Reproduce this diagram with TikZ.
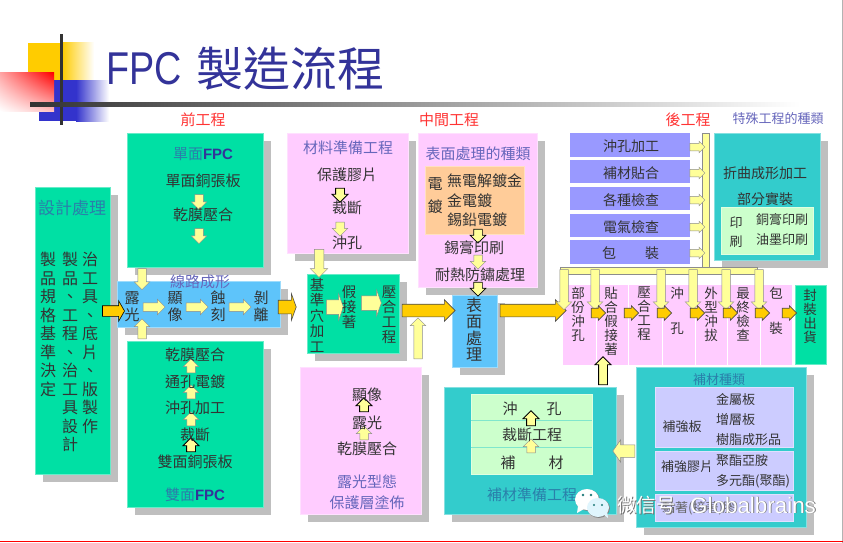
\documentclass[tikz,border=0pt]{standalone}
\usepackage{fontspec}
\setmainfont{Noto Sans CJK TC}
\newfontfamily\latinf{Liberation Sans}
\usepackage{tikz}
\usetikzlibrary{shapes.arrows}
\usetikzlibrary{shadows}
\usetikzlibrary{shadings}
\definecolor{grn}{HTML}{00E0A4}
\definecolor{pnk}{HTML}{FFCCFF}
\definecolor{sky}{HTML}{5EC4FA}
\definecolor{lav}{HTML}{9999FF}
\definecolor{lavlt}{HTML}{CCCCFF}
\definecolor{teal}{HTML}{33CCCC}
\definecolor{mint}{HTML}{CCFFCC}
\definecolor{ornglt}{HTML}{FFCC99}
\definecolor{shd}{HTML}{BFBFBF}
\definecolor{ylw}{HTML}{FFFF99}
\definecolor{orng}{HTML}{FFCC00}
\definecolor{navy}{HTML}{333399}
\definecolor{logoblue}{HTML}{3333CC}
\definecolor{violet}{HTML}{6666BB}
\definecolor{tealink}{HTML}{2A7FAA}
\definecolor{redink}{HTML}{FF3333}
\definecolor{ink}{HTML}{333333}
\tikzset{%
  box/.style={anchor=north west,inner sep=0pt,draw=#1!60!white,fill=#1,line width=0.6pt,
              drop shadow={shadow xshift=7.5pt,shadow yshift=-7.5pt,opacity=1,fill=shd}},
  flat/.style={anchor=north west,inner sep=0pt,draw=#1!60!white,fill=#1,line width=0.5pt},
  txt/.style={text=ink,inner sep=0pt,font=\fontsize{15}{17}\selectfont},
  small/.style={text=ink,inner sep=0pt,font=\fontsize{14}{16}\selectfont},
  head/.style={text=violet,inner sep=0pt,font=\fontsize{15}{17}\selectfont},
  stage/.style={text=redink,inner sep=0pt,font=\fontsize{15}{17}\selectfont},
  vert/.style={text=ink,inner sep=0pt,anchor=north,align=center,font=\fontsize{15}{#1}\selectfont},
  ya/.style={single arrow,single arrow head extend=3.5pt,inner sep=4pt,
             fill=ylw,draw=black!45,line width=0.5pt},
  yb/.style={ya,draw=black,line width=0.9pt},
  yo/.style={ya,inner sep=3.5pt,single arrow head extend=2pt},
  oa/.style={single arrow,single arrow head extend=2.5pt,inner sep=4.5pt,
             fill=orng,draw=black!70,line width=0.6pt},
  obig/.style={oa,inner sep=6pt,single arrow head extend=4.5pt},
  oflat/.style={oa,inner sep=6.5pt,single arrow head extend=6.5pt,single arrow tip angle=140},
  yflat/.style={ya,inner sep=7pt,single arrow head extend=6pt,single arrow tip angle=140},
}
\begin{document}
\begin{tikzpicture}[x=1pt,y=-1pt]
\useasboundingbox (0,0) rectangle (843,543);
% logo
\fill[orng] (28,43) rectangle (62,80);
\shade[left color=orng,right color=white] (62,43) rectangle (94,80);
\fill[logoblue] (39,80) rectangle (76,121);
\shade[left color=logoblue,right color=white] (76,80) rectangle (109,121);
\shade[shading=bilinear interpolation,upper right=red,lower left=white,upper left=red!35!white,lower right=red!25!white] (0,73) rectangle (54,111);
\fill[ink] (60,34) rectangle (63,125);
\shade[left color=ink,right color=white] (30,102) rectangle (800,106);
\draw[black!30] (842,0) -- (842,543);
\draw[red,line width=1pt] (0,541.5) -- (843,541.5);
\node[anchor=west,inner sep=0pt,text=navy,font=\latinf\fontsize{46}{48}\selectfont] (fpc) at (106,69) {\scalebox{0.82}[1]{FPC}};
\node[anchor=west,inner sep=0pt,text=navy,font=\fontsize{47}{49}\selectfont] (titlecn) at (196,69) {製造流程};
\node[stage] (pre) at (203,120) {前工程};
\node[stage] (mid) at (449,120) {中間工程};
\node[stage] (post) at (688,120) {後工程};
\node[head,font=\fontsize{13}{15}\selectfont] (special) at (778,119) {特殊工程的種類};
% boxes
\node[box=grn,minimum width=75pt,minimum height=287pt] (design) at (35,187) {};
\node[box=grn,minimum width=136pt,minimum height=134pt] (single) at (127,133) {};
\node[box=sky,minimum width=163pt,minimum height=46pt] (circuit) at (117,281) {};
\node[box=grn,minimum width=136pt,minimum height=166pt] (double) at (127,341) {};
\node[box=pnk,minimum width=121pt,minimum height=120pt] (material) at (287,133) {};
\node[box=grn,minimum width=92pt,minimum height=79pt] (hole) at (307,274) {};
\node[box=pnk,minimum width=121pt,minimum height=147pt] (expo) at (300,367) {};
\node[box=pnk,minimum width=119pt,minimum height=154pt] (surface) at (418,133) {};
\node[flat=ornglt,minimum width=99pt,minimum height=68pt] (plating) at (425,166) {};
\node[box=sky,minimum width=45pt,minimum height=72pt] (finish) at (452,295) {};
\node[box=teal,minimum width=106pt,minimum height=127pt] (bend) at (714,133) {};
\node[flat=mint,minimum width=92pt,minimum height=47pt] (print) at (721,207) {};
\node[box=teal,minimum width=172pt,minimum height=127pt] (prep) at (444,387) {};
\node[flat=mint,minimum width=121pt,minimum height=80pt] (prepin) at (471,394) {};
\node[box=teal,minimum width=170pt,minimum height=160pt] (kinds) at (636,367) {};
\node[flat=lavlt,minimum width=138pt,minimum height=60pt] (plate) at (655,387) {};
\node[flat=lavlt,minimum width=138pt,minimum height=39pt] (film) at (655,451) {};
\node[flat=lavlt,minimum width=138pt,minimum height=27pt] (glue) at (655,494) {};
\node[anchor=north west,inner sep=0pt,fill=pnk,minimum width=229pt,minimum height=80pt] (row) at (563,285) {};
\node[flat=grn,minimum width=31pt,minimum height=79pt] (pack) at (795,285) {};
\foreach \x in {596,628,662,695,727,760}
  \draw[white,line width=0.8pt] (\x,285) -- (\x,365);
\draw[line width=0.8pt,draw=mint!50!teal] (471,420) -- (592,420) (471,447) -- (592,447);
\foreach \y/\n/\h in {133/a/24,160/b/23,187/c/23,214/d/23,240/e/24}
  \node[flat=lav,draw=none,minimum width=120pt,minimum height=\h pt] (side\n) at (570,\y) {};
% bars
\draw[fill=ylw,draw=black!45,line width=0.5pt] (702,133) rectangle (709,267);
\draw[fill=ylw,draw=black!45,line width=0.5pt] (560,267) rectangle (757,274);
% arrows
\node[ya,rotate=-90,minimum height=15pt] (sa) at (199,200) {};
\node[ya,rotate=-90,minimum height=15pt] (sb) at (199,234) {};
\node[ya,rotate=-90,minimum height=21pt] (sc) at (142,277) {};
\node[ya,rotate=90,minimum height=20pt] (dz) at (142,331) {};
\foreach \x/\n in {152/a,195/b,238/c}
  \node[ya,minimum height=22pt] (cir\n) at (\x,307) {};
\foreach \y/\n in {368/a,394/b,421/c}
  \node[ya,rotate=90,minimum height=14pt] (du\n) at (191,\y) {};
\node[yb,rotate=90,minimum height=14pt] (dud) at (191,447) {};
\node[yb,rotate=-90,minimum height=14pt] (ma) at (340,193) {};
\node[ya,rotate=-90,minimum height=14pt] (mb) at (340,227) {};
\node[ya,rotate=-90,minimum height=28pt,inner sep=4.5pt,single arrow head extend=4pt] (mc) at (319,261) {};
\node[yb,rotate=-90,minimum height=14pt,line width=0.7pt] (pa) at (478,234) {};
\node[ya,rotate=-90,minimum height=14pt] (pb) at (478,260) {};
\node[yb,rotate=-90,minimum height=14pt,line width=0.7pt] (pc) at (478,287) {};
\node[yflat,minimum height=13pt] (ha) at (333.5,307) {};
\node[yflat,minimum height=20pt] (hb) at (370,303) {};
\node[ya,rotate=90,minimum height=41pt] (hc) at (418,340.5) {};
\node[yb,rotate=90,minimum height=14pt] (ea) at (364,407) {};
\node[ya,rotate=90,minimum height=14pt] (eb) at (364,435) {};
\node[oa,minimum height=22pt,draw=black,inner sep=5pt,single arrow head extend=5pt,single arrow tip angle=120] (da) at (112,311) {};
\node[oflat,minimum height=18pt] (db) at (286,307) {};
\node[obig,minimum height=53pt] (fa) at (425.5,310.5) {};
\node[obig,minimum height=66pt] (fb) at (530,310.5) {};
\foreach \y/\n in {147/a,173/b,200/c,227/d,253/e}
  \node[yo,minimum height=15pt] (out\n) at (695.5,\y) {};
\foreach \x/\n in {564/a,595/b,661/c,693/d,726/e,759/f}
  \node[ya,rotate=-90,minimum height=40pt] (dn\n) at (\x,287.5) {};
\foreach \x/\n in {596/a,629/b,662/c,695/d,728/e,760/f,787/g}
  \node[oa,minimum height=14pt] (cell\n) at (\x,313) {};
\node[yb,rotate=90,minimum height=28pt] (ga) at (603,373) {};
\node[yb,rotate=90,minimum height=15pt] (gb) at (531,420.5) {};
\node[ya,rotate=90,minimum height=14pt] (gc) at (531,448) {};
\node[yflat,rotate=180,minimum height=22pt,inner sep=6pt,single arrow head extend=5pt,single arrow tip angle=110] (gd) at (626,451) {};
% design
\node[head,text=tealink,font=\fontsize{17}{19}\selectfont] (dtitle) at (72,208) {設計處理};
\node[vert=18.5,font=\fontsize{16}{18.5}\selectfont] (da1) at (90,252) {治\\工\\具\\、\\底\\片\\、\\版\\製\\作};
\node[vert=18.5,font=\fontsize{16}{18.5}\selectfont] (da2) at (70,252) {製\\品\\、\\工\\程\\、\\治\\工\\具\\設\\計};
\node[vert=18.5,font=\fontsize{16}{18.5}\selectfont] (da3) at (48,252) {製\\品\\規\\格\\基\\準\\決\\定};
% single side
\node[head,text=tealink] (stitle) at (203,154) {單面\textbf{\textcolor{navy}{\latinf FPC}}};
\node[txt] (sl1) at (203,181) {單面銅張板};
\node[txt] (sl2) at (203,215) {乾膜壓合};
% circuit
\node[head] (ctitle) at (200,282) {線路成形};
\foreach \x/\n/\t in {132/a/{露\\光},175/b/{顯\\像},218/c/{蝕\\刻},261/d/{剝\\離}}
  \node[vert=17] (cc\n) at (\x,291) {\t};
% double side
\foreach \y/\n/\t in {355/a/乾膜壓合,382/b/通孔電鍍,408/c/沖孔加工,435/d/裁斷,462/e/雙面銅張板}
  \node[txt] (dl\n) at (195,\y) {\t};
\node[head,text=tealink] (dtl) at (195,495) {雙面\textbf{\textcolor{navy}{\latinf FPC}}};
% material
\node[head] (mtitle) at (348,148) {材料準備工程};
\node[txt] (ml1) at (347,175) {保護膠片};
\node[txt] (ml2) at (347,208) {裁斷};
\node[txt] (ml3) at (347,243) {沖孔};
% hole
\node[vert=15.5,font=\fontsize{14.5}{15.5}\selectfont] (ha1) at (317,278) {基\\準\\穴\\加\\工};
\node[vert=15,font=\fontsize{14.5}{15}\selectfont] (ha2) at (349,285) {假\\接\\著};
\node[vert=15,font=\fontsize{14.5}{15}\selectfont] (ha3) at (389,286) {壓\\合\\工\\程};
% exposure
\node[txt] (el1) at (367,395) {顯像};
\node[txt] (el2) at (367,423) {露光};
\node[txt] (el3) at (367,449) {乾膜壓合};
\node[head] (el4) at (367,482) {露光型態};
\node[head] (el5) at (367,503) {保護層塗佈};
% surface
\node[head] (ptitle) at (478,154) {表面處理的種類};
\node[vert=23] (pv) at (435,177) {電\\鍍};
\node[txt,anchor=west] (pl1) at (447,181) {無電解鍍金};
\node[txt,anchor=west] (pl2) at (447,201) {金電鍍};
\node[txt,anchor=west] (pl3) at (447,220) {錫鉛電鍍};
\node[txt] (pl4) at (474,248) {錫膏印刷};
\node[txt] (pl5) at (480,275) {耐熱防鏽處理};
\node[vert=16.2,font=\fontsize{16}{16.2}\selectfont] (fi) at (474,298) {表\\面\\處\\理};
% side list
\node[small] (la) at (631,146) {沖孔加工};
\node[small] (lb) at (631,173) {補材貼合};
\node[small] (lc) at (631,200) {各種檢查};
\node[small] (ld) at (631,227) {電氣檢查};
\node[small] (le1) at (609,253) {包};
\node[small] (le2) at (652,253) {裝};
% special
\node[small] (bl1) at (765,173) {折曲成形加工};
\node[small] (bl2) at (765,199) {部分實裝};
\node[vert=19,font=\fontsize{13}{19}\selectfont] (bv) at (736,217) {印\\刷};
\node[txt,font=\fontsize{13}{15}\selectfont] (bl3) at (782,220) {銅膏印刷};
\node[txt,font=\fontsize{13}{15}\selectfont] (bl4) at (782,240) {油墨印刷};
% row
\foreach \x/\n/\g/\t in {578/a/14/{部\\份\\沖\\孔},611/b/14/{貼\\合\\假\\接\\著},644/c/14/{壓\\合\\工\\程},711/d/14/{外\\型\\沖\\拔},743/e/14/{最\\終\\檢\\查}}
  \node[vert=\g,font=\fontsize{13.5}{\g}\selectfont] (rc\n) at (\x,287) {\t};
\node[vert=14,font=\fontsize{13.5}{14}\selectfont] (rcg) at (810,289) {封\\裝\\出\\貨};
\node[vert=35,font=\fontsize{13.5}{35}\selectfont] (rcx) at (677,287) {沖\\孔};
\node[vert=35,font=\fontsize{13.5}{35}\selectfont] (rcy) at (776,287) {包\\裝};
% prep
\node[small,font=\fontsize{15}{17}\selectfont] (pr1) at (510,409) {沖};
\node[small,font=\fontsize{15}{17}\selectfont] (pr2) at (554,409) {孔};
\node[txt] (pr3) at (532,435) {裁斷工程};
\node[small,font=\fontsize{15}{17}\selectfont] (pr4) at (508,463) {補};
\node[small,font=\fontsize{15}{17}\selectfont] (pr5) at (556,463) {材};
\node[head,text=tealink] (prt) at (532,495) {補材準備工程};
% kinds
\node[head,text=tealink,font=\fontsize{13}{15}\selectfont] (kt) at (719,380) {補材種類};
\node[small,font=\fontsize{13}{15}\selectfont] (k1) at (682,427) {補強板};
\node[small,anchor=west,font=\fontsize{13}{15}\selectfont] (k2) at (716,400) {金屬板};
\node[small,anchor=west,font=\fontsize{13}{15}\selectfont] (k3) at (716,420) {增層板};
\node[small,anchor=west,font=\fontsize{13}{15}\selectfont] (k4) at (716,440) {樹脂成形品};
\node[small,font=\fontsize{13}{15}\selectfont] (k5) at (687,467) {補強膠片};
\node[small,anchor=west,font=\fontsize{13}{15}\selectfont] (k6) at (716,461) {聚酯亞胺};
\node[small,anchor=west,font=\fontsize{13}{15}\selectfont] (k7) at (716,481) {多元酯(聚酯)};
\node[small,anchor=west,text=black!60,font=\fontsize{13}{15}\selectfont] (k8) at (662,508) {黏著(接著)膠};
% watermark
\fill[black!50] (587.7,500.2) ellipse (12.2 and 10.7);
\fill[black!50] (598.7,508.2) ellipse (11.2 and 9.7);
\fill[white] (587,499.5) ellipse (12 and 10.5);
\fill[white] (578,506) -- (577,513) -- (584,509) -- cycle;
\fill[white!88!cyan] (598,507.5) ellipse (11 and 9.5);
\fill[white!88!cyan] (603,514) -- (608,518) -- (607,510) -- cycle;
\fill[teal!60!black] (583,495) circle (1.3) (591,495) circle (1.3) (594,505) circle (1.2) (602,505) circle (1.2);
\foreach \d/\n/\c in {0.8/s/black!55,0/f/white}{
  \node[anchor=west,inner sep=0pt,text=\c,font=\fontsize{19.5}{21}\selectfont] (wm\n) at (617+\d,505+\d) {微信号};
  \node[anchor=west,inner sep=0pt,text=\c,font=\latinf\fontsize{22.4}{24}\selectfont] (wl\n) at (690+\d,505+\d) {Globalbrains};
}
\end{tikzpicture}
\end{document}
